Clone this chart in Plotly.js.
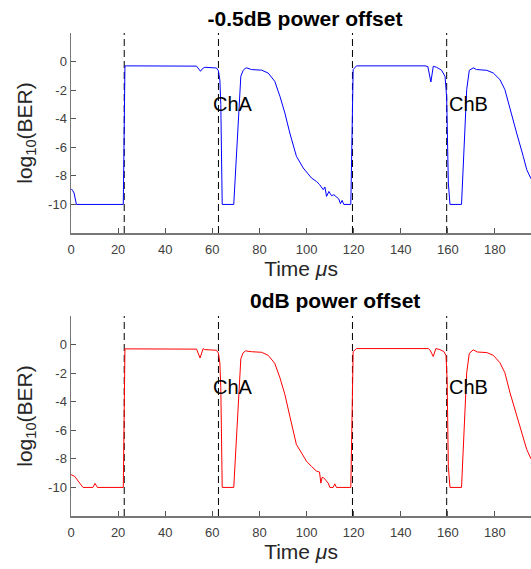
<!DOCTYPE html>
<html>
<head>
<meta charset="utf-8">
<script src="https://cdn.plot.ly/plotly-3.0.1.min.js"></script>
<style>html,body{margin:0;padding:0;background:#fff;}#chart{width:531px;height:569px;}</style>
</head>
<body>
<div id="chart"></div>
<script>
// -0.5 dB power offset (blue)
const timeA = [0, 0.6, 1.3, 2.3, 22.2, 22.9, 23.5, 53.3, 55.0, 55.8, 56.8, 57.5, 61.8, 62.6, 63.2, 63.6, 64.2, 69.1, 71.0, 72.1, 73.0, 73.8, 74.6, 76.6, 80.9, 83.7, 86.5, 88.7, 90.8, 92.9, 95.7, 98.6, 102.1, 103.5, 104.2, 105.5, 106.4, 107.1, 107.8, 108.5, 109.5, 110.6, 111.6, 112.7, 113.7, 114.4, 115.1, 115.8, 118.8, 119.8, 121.2, 150.3, 151.5, 152.8, 153.8, 155.2, 157.3, 158.8, 159.5, 160.2, 160.9, 165.8, 168.0, 169.1, 170.8, 172.2, 176.5, 179.3, 182.1, 184.2, 186.4, 189.2, 192.0, 193.5, 195.3];
const berA = [-8.9, -9.0, -9.2, -10, -10, -0.3, -0.3, -0.32, -0.68, -0.5, -0.4, -0.4, -0.45, -0.65, -1.3, -3.0, -10, -10, -3.8, -1.03, -0.65, -0.49, -0.44, -0.56, -0.6, -0.8, -1.38, -2.43, -3.6, -5.0, -6.63, -7.45, -8.15, -8.3, -8.39, -8.6, -8.85, -8.97, -8.78, -9.44, -9.09, -9.39, -9.32, -9.48, -9.62, -9.95, -9.72, -10, -10, -0.56, -0.3, -0.3, -0.35, -1.43, -0.33, -0.4, -0.6, -1.03, -2.5, -8.5, -10, -10, -1.96, -0.61, -0.44, -0.56, -0.61, -0.8, -1.26, -1.96, -3.36, -5.0, -6.63, -7.57, -8.2];

// 0 dB power offset (red)
const timeB = [0, 1.6, 3.7, 5.1, 9.3, 10.2, 11.2, 22.2, 22.9, 23.5, 53.3, 54.8, 55.4, 56.1, 56.8, 61.8, 62.6, 63.2, 63.6, 64.2, 69.1, 71.0, 72.1, 73.0, 74.1, 76.6, 80.9, 83.7, 86.5, 88.7, 90.8, 92.9, 95.7, 97.9, 100.0, 102.1, 104.2, 105.5, 106.1, 106.6, 107.1, 108.2, 109.2, 109.9, 111.3, 112.0, 112.7, 118.8, 119.8, 121.2, 151.7, 152.5, 153.8, 154.9, 156.6, 158.3, 159.2, 159.7, 160.2, 160.9, 165.8, 168.0, 169.1, 170.8, 172.5, 176.5, 179.3, 182.1, 184.2, 186.4, 189.2, 192.0, 193.5, 195.3];
const berB = [-9.1, -9.23, -9.7, -10, -10, -9.72, -10, -10, -0.3, -0.3, -0.32, -0.94, -0.6, -0.28, -0.35, -0.4, -0.6, -1.3, -3.0, -10, -10, -3.8, -1.0, -0.6, -0.44, -0.5, -0.54, -0.75, -1.31, -2.32, -3.49, -5.01, -7.0, -7.59, -8.17, -8.53, -8.85, -8.92, -9.7, -9.3, -9.3, -9.5, -9.7, -10, -10, -9.75, -10, -10, -0.49, -0.28, -0.28, -0.4, -0.84, -0.28, -0.35, -0.49, -0.75, -2.5, -8.53, -10, -10, -1.97, -0.61, -0.37, -0.52, -0.56, -0.75, -1.27, -1.97, -3.38, -5.01, -6.65, -7.35, -8.0];

// vertical dashed markers (time, µs)
const markerTimes = [22.6, 62.6, 119.5, 159.5];
// channel labels
const chanLabels = ['ChA', 'ChB'];
const chanTimes = [60, 160];
const chanBer = [-3, -3];

const xTicks = [0, 20, 40, 60, 80, 100, 120, 140, 160, 180];
const yTicks = [-10, -8, -6, -4, -2, 0];
const yTickText = ['-10', '-8', '-6', '-4', '-2', '0'];
const titles = ['-0.5dB power offset', '0dB power offset'];

const W = 531, H = 569;
const FONT = 'Liberation Sans, Arial, Helvetica, sans-serif';

function dashTrace(xa, ya) {
  const xs = [], ys = [];
  markerTimes.forEach(t => { xs.push(t, t, null); ys.push(-12, 2, null); });
  return {x: xs, y: ys, xaxis: xa, yaxis: ya, mode: 'lines', hoverinfo: 'skip',
          line: {color: '#000', width: 1, dash: '7px,4px'}, showlegend: false};
}

const traces = [
  dashTrace('x', 'y'),
  dashTrace('x2', 'y2'),
  {x: timeA, y: berA, xaxis: 'x', yaxis: 'y', mode: 'lines', line: {color: 'rgb(0,0,255)', width: 1}, showlegend: false},
  {x: timeB, y: berB, xaxis: 'x2', yaxis: 'y2', mode: 'lines', line: {color: 'rgb(255,0,0)', width: 1}, showlegend: false}
];

function xAxis(anchor) {
  return {
    anchor: anchor, domain: [0, 1], range: [0, 195.3], autorange: false,
    tickvals: xTicks, ticks: 'inside', ticklen: 5, tickcolor: '#555', tickwidth: 1,
    showline: true, linecolor: '#777', linewidth: 1.5, showgrid: false, zeroline: false,
    tickfont: {family: FONT, size: 13, color: '#404040'}, ticklabelstandoff: 4,
    title: {text: 'Time <i>μ</i>s', font: {family: FONT, size: 21, color: '#262626'}, standoff: 3},
    automargin: false
  };
}
function yAxis(anchor, dom) {
  return {
    anchor: anchor, domain: dom, range: [-12, 2], autorange: false,
    tickvals: yTicks, ticktext: yTickText, ticks: 'inside', ticklen: 5, tickcolor: '#555', tickwidth: 1,
    showline: true, linecolor: '#777', linewidth: 1.5, showgrid: false, zeroline: false,
    tickfont: {family: FONT, size: 13, color: '#404040'},
    title: {text: 'log<sub>10</sub>(BER)', font: {family: FONT, size: 21, color: '#262626'}, standoff: 10},
    automargin: false
  };
}

const annotations = [];
[['x', 'y'], ['x2', 'y2']].forEach(([xa, ya]) => {
  chanLabels.forEach((lab, i) => {
    annotations.push({x: chanTimes[i], y: chanBer[i], xref: xa, yref: ya, text: lab, showarrow: false,
      xanchor: 'left', yanchor: 'middle', xshift: -1, font: {family: FONT, size: 20, color: '#000'}});
  });
});
annotations.push({x: 305 / W, y: 1 - 300 / H, xref: 'paper', yref: 'paper', text: '<b>' + titles[1] + '</b>',
  showarrow: false, xanchor: 'center', yanchor: 'middle', font: {family: FONT, size: 21, color: '#000'}});

const layout = {
  width: W, height: H,
  margin: {l: 71.3, r: 0, t: 0, b: 0, pad: 0},
  paper_bgcolor: '#fff', plot_bgcolor: '#fff',
  title: {text: '<b>' + titles[0] + '</b>', x: 305 / W, xanchor: 'center', xref: 'container',
          y: 1 - 19 / H, yanchor: 'middle', yref: 'container', font: {family: FONT, size: 21, color: '#000'}},
  xaxis: xAxis('y'),
  yaxis: yAxis('x', [(H - 233) / H, (H - 33) / H]),
  xaxis2: xAxis('y2'),
  yaxis2: yAxis('x2', [(H - 516) / H, (H - 316) / H]),
  annotations: annotations,
  showlegend: false
};

Plotly.newPlot('chart', traces, layout, {displayModeBar: false, staticPlot: true});
</script>
</body>
</html>
